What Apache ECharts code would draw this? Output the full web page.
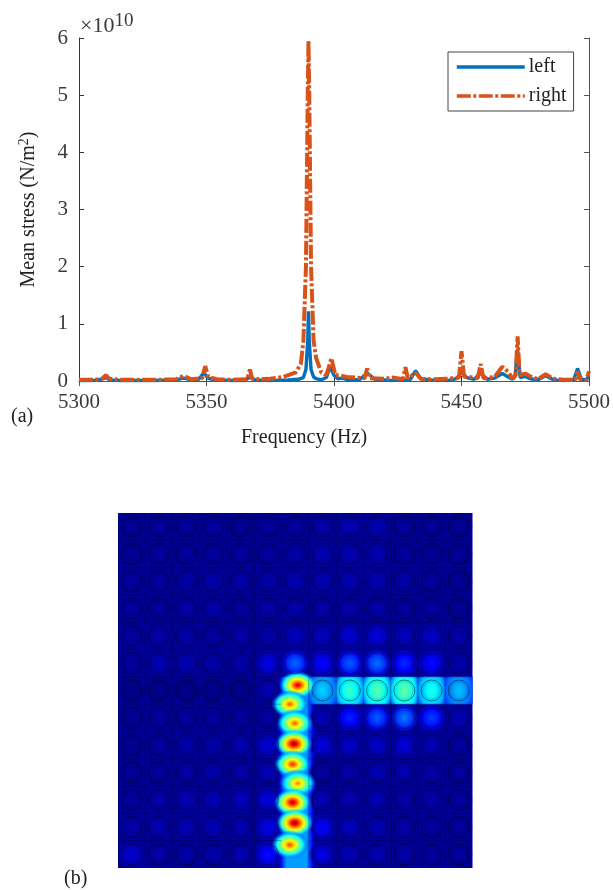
<!DOCTYPE html>
<html>
<head>
<meta charset="utf-8">
<style>html,body{margin:0;padding:0;background:#fff}#c{width:613px;height:890px;filter:blur(0.45px)}</style>
<script src="https://cdn.jsdelivr.net/npm/echarts@6/dist/echarts.min.js"></script>
</head>
<body>
<div id="c"></div>
<script>
const xTicks = [5300, 5350, 5400, 5450, 5500];
const yTicks = [0, 1, 2, 3, 4, 5, 6];

const leftFreq = [5300,5306,5309,5310.5,5312,5316,5330,5338,5341,5344,5347,5349,5350.5,5353,5360,5365,5367,5369,5375,5382,5386,5388,5389,5389.7,5390,5390.3,5391,5392,5393,5395,5397,5398.5,5400,5401.5,5403,5405,5410,5413,5416,5422,5428,5430,5432,5434,5438,5445,5448,5450,5452,5455,5457.5,5460,5463,5466,5468,5470,5471,5472,5473,5475,5477,5480,5483,5486,5490,5494,5495.5,5497,5499,5500];
const leftStress = [0.01,0.01,0.03,0.06,0.02,0.01,0.01,0.02,0.05,0.02,0.03,0.15,0.05,0.02,0.01,0.01,0.07,0.02,0.01,0.02,0.03,0.06,0.2,0.7,1.22,0.7,0.2,0.07,0.04,0.02,0.06,0.25,0.1,0.04,0.05,0.03,0.02,0.14,0.03,0.01,0.02,0.03,0.18,0.04,0.02,0.01,0.04,0.15,0.06,0.03,0.14,0.03,0.05,0.13,0.08,0.03,0.08,0.55,0.06,0.08,0.04,0.02,0.09,0.02,0.01,0.02,0.22,0.03,0.02,0.1];

const rightFreq = [5300,5306,5309,5310.5,5312,5316,5330,5338,5341,5344,5348.3,5349.5,5350.7,5354,5360,5366,5367,5368,5375,5380,5385,5387,5388,5389,5389.7,5390,5390.3,5391,5392,5393,5395,5397,5398,5399,5400.5,5402,5405,5412,5413,5414,5420,5423,5427,5428,5429,5432,5434,5438,5445,5449,5450,5451,5456.4,5457.5,5458.6,5463,5466,5468.5,5470,5471.2,5472,5472.8,5475,5477,5480,5483,5486,5490,5494.6,5495.5,5496.4,5499,5500];
const rightStress = [0.02,0.02,0.04,0.1,0.04,0.02,0.02,0.03,0.09,0.03,0.05,0.26,0.07,0.03,0.02,0.03,0.2,0.03,0.04,0.07,0.15,0.3,0.7,2,5,5.95,5,2,0.7,0.4,0.15,0.1,0.25,0.4,0.1,0.1,0.07,0.05,0.22,0.05,0.04,0.06,0.03,0.24,0.04,0.15,0.04,0.03,0.04,0.06,0.52,0.08,0.05,0.3,0.05,0.07,0.25,0.15,0.04,0.1,0.78,0.1,0.13,0.08,0.03,0.12,0.04,0.02,0.02,0.17,0.03,0.02,0.17];

// stress field: peak intensity per unit cell, 0..1 on the jet scale
const cellRows = [
 [.02,.03,.03,.03,.02,.03,.03,.04,.05,.05,.03,.02,.02],
 [.02,.03,.03,.03,.03,.03,.04,.05,.05,.05,.03,.02,.02],
 [.03,.03,.04,.04,.04,.04,.05,.05,.05,.05,.04,.03,.02],
 [.03,.03,.04,.04,.03,.04,.04,.04,.04,.04,.03,.03,.02],
 [.03,.04,.04,.03,.04,.04,.06,.06,.08,.09,.06,.07,.04],
 [.03,.05,.05,.04,.04,.1,.23,.13,.22,.24,.17,.14,.04],
 [.01,.01,.01,.01,.01,.05,0,.34,.44,.47,.48,.41,.32],
 [.02,.03,.03,.03,.03,.03,0,.05,.16,.22,.25,.19,.05],
 [.02,.03,.04,.04,.05,.08,0,.09,.07,.07,.09,.05,.03],
 [.02,.03,.04,.04,.04,.05,0,.03,.04,.05,.05,.04,.03],
 [.03,.04,.05,.05,.06,.09,0,.05,.05,.05,.04,.04,.03],
 [.04,.05,.05,.05,.05,.1,0,.12,.06,.05,.04,.03,.03],
 [.08,.04,.04,.04,.05,.14,0,.1,.05,.05,.04,.03,.03]
];
// hot spots along the vertical branch, in unit-cell coordinates
const hotCol = [6.59,6.3,6.48,6.45,6.4,6.59,6.4,6.48,6.3];
const hotRow = [6.3,7.0,7.7,8.45,9.2,9.9,10.6,11.35,12.15];
const hotValue = [.93,.8,.8,1,.85,.76,.97,1,.82];

function jet(v){
  v = Math.max(0, Math.min(1, v));
  const f = (a) => Math.round(255 * Math.max(0, Math.min(1, 1.5 - Math.abs(4 * v - a))));
  return [f(3), f(2), f(1)];
}
function css(v, a){ const c = jet(v); return 'rgba(' + c[0] + ',' + c[1] + ',' + c[2] + ',' + a + ')'; }
function radial(v, r, floor){
  const stops = [];
  const n = 12;
  for (let i = 0; i <= n; i++){
    const t = i / n;
    const a = t < 0.7 ? 1 : (1 - t) / 0.3;
    stops.push({offset: t, color: css(v * (1 - t * (1 - floor)), a)});
  }
  return {type: 'radial', x: .5, y: .5, r: r, colorStops: stops};
}
function blob(api, x, y, v, rx, ry, clipY, floor){
  const p = api.coord([x, y]);
  const s = api.size([rx, ry]);
  const cy = clipY || 1;
  return {
    type: 'rect', x: p[0], y: p[1], scaleX: s[0], scaleY: s[1],
    shape: {x: -1, y: -cy, width: 2, height: 2 * cy},
    style: {fill: radial(v, 1 / (2 * Math.min(1, cy)), floor)}
  };
}
function band(api, x0, y0, x1, y1, fill){
  const a = api.coord([x0, y0]), b = api.coord([x1, y1]);
  return {type: 'rect', shape: {x: a[0], y: a[1], width: b[0] - a[0], height: b[1] - a[1]}, style: {fill: fill}};
}

const cellData = [];
cellRows.forEach((row, r) => row.forEach((v, c) => cellData.push([c + .5, r + .5, v])));
const hotData = hotCol.map((c, i) => [c, hotRow[i], hotValue[i]]);

function renderCell(params, api){
  const x = api.value(0), y = api.value(1), v = api.value(2);
  if (v <= 0) return {type: 'group', children: []};
  if (v > 0.28) return blob(api, x, y, v, .62, .95, .5 / .95, .62);
  return blob(api, x, y, v, .52, .52, 1, .5);
}
function renderBands(params, api){
  return {type: 'group', children: [
    band(api, 7, 6, 13, 7, css(.17, 1)),
    band(api, 5.85, 6, 7.25, 13, {type: 'linear', x: 0, y: 0, x2: 1, y2: 0, colorStops: [
      {offset: 0, color: css(.04, 0)}, {offset: .1, color: css(.14, 1)}, {offset: .24, color: css(.28, 1)}, {offset: .76, color: css(.28, 1)},
      {offset: .9, color: css(.14, 1)}, {offset: 1, color: css(.04, 0)}]})
  ]};
}
function renderHot(params, api){
  return blob(api, api.value(0), api.value(1), api.value(2), .7, .52, 1, .2);
}
function renderRing(params, api){
  const x = api.value(0), y = api.value(1), v = api.value(2);
  if (v <= 0) return {type: 'group', children: []};
  const p = api.coord([x, y]);
  const r = api.size([1, 1])[0];
  return {type: 'group', children: [
    {type: 'circle', shape: {cx: p[0], cy: p[1], r: r * .385}, style: {fill: 'none', stroke: 'rgba(0,0,20,0.5)', lineWidth: 1}},
    {type: 'circle', shape: {cx: p[0], cy: p[1], r: r * .32}, style: {fill: 'none', stroke: 'rgba(0,0,30,0.14)', lineWidth: 1}},
    {type: 'line', shape: {x1: p[0] - r / 2, y1: p[1] - r / 2, x2: p[0] + r / 2, y2: p[1] - r / 2}, style: {stroke: 'rgba(0,0,30,0.3)', lineWidth: 1}},
    {type: 'line', shape: {x1: p[0] - r / 2, y1: p[1] - r / 2, x2: p[0] - r / 2, y2: p[1] + r / 2}, style: {stroke: 'rgba(0,0,30,0.3)', lineWidth: 1}}
  ]};
}

const serif = '"Liberation Serif","Times New Roman",serif';
const ink = '#3a3a3a';
const chart = echarts.init(document.getElementById('c'), null, {renderer: 'canvas'});
const frame = {show: true, lineStyle: {color: '#555', width: 1}};
const fieldAxis = {type: 'value', min: 0, max: 13, show: false};

chart.setOption({
  animation: false,
  backgroundColor: '#fff',
  textStyle: {fontFamily: serif},
  grid: [
    {left: 79, top: 38, width: 512, height: 343},
    {left: 118, top: 513, width: 354.5, height: 355, show: true, backgroundColor: '#000094', borderWidth: 0}
  ],
  xAxis: [
    {gridIndex: 0, type: 'value', min: 5300, max: 5500, interval: 50, position: 'bottom',
     axisLine: {show: true, onZero: false, lineStyle: {color: '#333', width: 1}},
     axisTick: {show: true, inside: true, length: 5, lineStyle: {color: '#333'}},
     axisLabel: {color: ink, fontSize: 21, fontFamily: serif, margin: 11, hideOverlap: false, showMinLabel: true, showMaxLabel: true,
       formatter: v => xTicks.includes(v) ? String(v) : ''},
     splitLine: {show: false}},
    {gridIndex: 0, type: 'value', min: 5300, max: 5500, interval: 50, position: 'top',
     axisLine: frame, axisTick: {show: true, inside: true, length: 5, lineStyle: {color: '#555'}},
     axisLabel: {show: false}, splitLine: {show: false}},
    Object.assign({gridIndex: 1}, fieldAxis)
  ],
  yAxis: [
    {gridIndex: 0, type: 'value', min: 0, max: 6, interval: 1, position: 'left',
     name: 'Mean stress (N/m{s|2})', nameLocation: 'middle', nameGap: 39, nameRotate: 90,
     nameTextStyle: {color: '#222', fontSize: 20, fontFamily: serif,
       rich: {s: {fontSize: 14, fontFamily: serif, color: '#222', padding: [0, 0, 9, 0]}}},
     axisLine: {show: true, onZero: false, lineStyle: {color: '#333', width: 1}},
     axisTick: {show: true, inside: true, length: 5, lineStyle: {color: '#333'}},
     axisLabel: {color: ink, fontSize: 21, fontFamily: serif, margin: 11,
       formatter: v => yTicks.includes(v) ? String(v) : ''},
     splitLine: {show: false}},
    {gridIndex: 0, type: 'value', min: 0, max: 6, interval: 1, position: 'right',
     axisLine: frame, axisTick: {show: true, inside: true, length: 5, lineStyle: {color: '#555'}},
     axisLabel: {show: false}, splitLine: {show: false}},
    Object.assign({gridIndex: 1, inverse: true}, fieldAxis)
  ],
  legend: {
    data: ['left', 'right'], orient: 'vertical', left: 448, top: 52,
    backgroundColor: '#fff', borderColor: '#444', borderWidth: 1,
    padding: [5, 7, 5, 7], itemWidth: 68, itemHeight: 14, itemGap: 9,
    itemStyle: {opacity: 0},
    lineStyle: {width: 3.6, opacity: 1},
    textStyle: {color: '#222', fontSize: 20, fontFamily: serif, padding: [0, 0, 0, -1]}
  },
  graphic: [
    {type: 'text', left: 80, top: 12, style: {text: '×10{s|10}', fill: ink, font: '22px ' + serif,
      rich: {s: {fontSize: 19, fontFamily: serif, fill: ink, padding: [0, 0, 9, 0]}}}},
    {type: 'text', left: 241, top: 428, style: {text: 'Frequency (Hz)', fill: '#222', font: '20px ' + serif}},
    {type: 'text', left: 11, top: 407, style: {text: '(a)', fill: '#222', font: '20px ' + serif}},
    {type: 'text', left: 64, top: 869, style: {text: '(b)', fill: '#222', font: '20px ' + serif}}
  ],
  series: [
    {name: 'left', type: 'line', xAxisIndex: 0, yAxisIndex: 0, symbol: 'none', clip: true,
     data: leftFreq.map((f, i) => [f, leftStress[i]]),
     itemStyle: {color: '#0072BD'}, lineStyle: {color: '#0072BD', width: 3.4}},
    {name: 'right', type: 'line', xAxisIndex: 0, yAxisIndex: 0, symbol: 'none', clip: true,
     data: rightFreq.map((f, i) => [f, rightStress[i]]),
     itemStyle: {color: '#D95319'}, lineStyle: {color: '#D95319', width: 4, type: [14, 2.5, 3, 2.5]}},
    {type: 'custom', xAxisIndex: 2, yAxisIndex: 2, clip: true, silent: true, data: [[0, 0]], renderItem: renderBands, z: 2},
    {type: 'custom', xAxisIndex: 2, yAxisIndex: 2, clip: true, silent: true, data: cellData, renderItem: renderCell, z: 3},
    {type: 'custom', xAxisIndex: 2, yAxisIndex: 2, clip: true, silent: true, data: hotData, renderItem: renderHot, z: 4},
    {type: 'custom', xAxisIndex: 2, yAxisIndex: 2, clip: true, silent: true, data: cellData, renderItem: renderRing, z: 5}
  ]
});
</script>
</body>
</html>
